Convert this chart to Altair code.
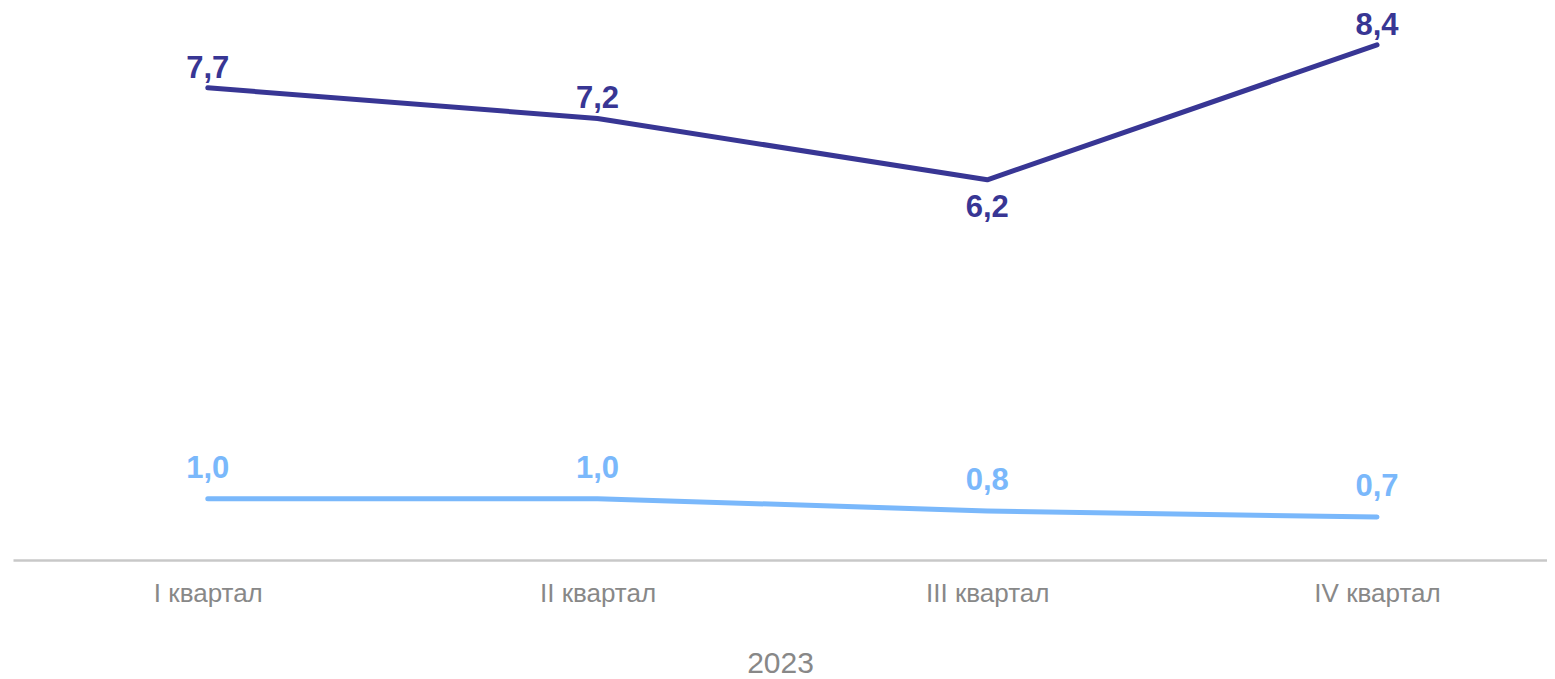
import altair as alt
import pandas as pd

quarters = ["I квартал", "II квартал", "III квартал", "IV квартал"]
series_a = [7.7, 7.2, 6.2, 8.4]
series_b = [1.0, 1.0, 0.8, 0.7]
label_below_a = [False, False, True, False]
year_title = "2023"

rows = []
for q, v, b in zip(quarters, series_a, label_below_a):
    rows.append({"q": q, "v": v, "s": "A", "below": b, "lbl": f"{v:.1f}".replace(".", ",")})
for q, v in zip(quarters, series_b):
    rows.append({"q": q, "v": v, "s": "B", "below": False, "lbl": f"{v:.1f}".replace(".", ",")})
df = pd.DataFrame(rows)

color_scale = alt.Scale(domain=["A", "B"], range=["#383694", "#7ab8fb"])
color = alt.Color("s:N", scale=color_scale, legend=None)

x = alt.X("q:N", sort=quarters, scale=alt.Scale(type="point", padding=0.468, align=0.534),
          axis=alt.Axis(title=year_title, labelAngle=0, labelFont="Liberation Sans",
                        labelFontSize=26, labelColor="#888888", labelPadding=20,
                        titleFont="Liberation Sans", titleFontSize=30, titleColor="#888888",
                        titleFontWeight="normal", titlePadding=42,
                        domainColor="#c8c8c8", domainWidth=2.5, ticks=False, grid=False))
y = alt.Y("v:Q", scale=alt.Scale(domain=[0, 8.92], nice=False), axis=None)

base = alt.Chart(df)
lines = base.mark_line(strokeWidth=5, strokeCap="round", strokeJoin="round").encode(
    x=x, y=y, color=color
)
txt = dict(font="Liberation Sans", fontSize=31, fontWeight="bold")
dark_above = base.transform_filter("datum.s == 'A' && !datum.below").mark_text(dy=-19, **txt).encode(
    x=x, y=y, text="lbl:N", color=color)
dark_below = base.transform_filter("datum.s == 'A' && datum.below").mark_text(dy=28, **txt).encode(
    x=x, y=y, text="lbl:N", color=color)
light = base.transform_filter("datum.s == 'B'").mark_text(dy=-30, **txt).encode(
    x=x, y=y, text="lbl:N", color=color)

chart = alt.layer(lines, dark_above, dark_below, light).properties(
    width=1534, height=547,
    padding={"left": 5, "top": 5, "right": 0, "bottom": 118},
    autosize=alt.AutoSizeParams(type="none"),
).configure_view(stroke=None)
chart.save("out.html", embed_options={"renderer": "svg", "actions": False})
